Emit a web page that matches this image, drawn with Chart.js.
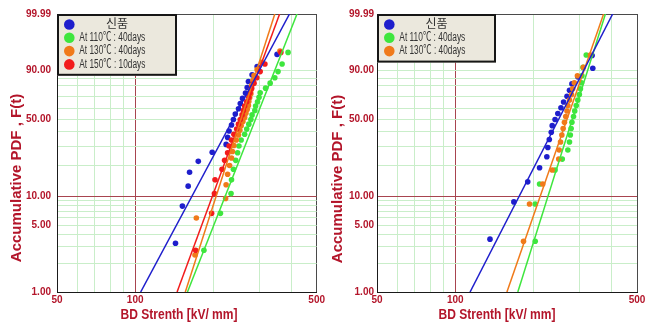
<!DOCTYPE html>
<html>
<head>
<meta charset="utf-8">
<script src="https://cdn.jsdelivr.net/npm/chart.js@4.4.1/dist/chart.umd.min.js"></script>
<style>
  html, body { margin: 0; padding: 0; background: #fff; }
  #wrap { position: relative; width: 654px; height: 325px; overflow: hidden; }
  .panel { position: absolute; top: 0; width: 327px; height: 325px; }
</style>
</head>
<body>
<div id="wrap">
  <div class="panel" style="left:0"><canvas id="leftChart" width="327" height="325"></canvas></div>
  <div class="panel" style="left:327px"><canvas id="rightChart" width="327" height="325"></canvas></div>
</div>
<script>
// ── Axes ──────────────────────────────────

const gridKV   = [50, 60, 70, 80, 90, 100, 200, 300, 400, 500];
const labelKV  = [50, 100, 500];
const gridPct  = [1, 2, 3, 4, 5, 6, 7, 8, 9, 10, 20, 30, 40, 50, 60, 70, 80, 85, 90, 99.99];
const labelPct = [1, 5, 10, 50, 90, 99.99];

const names  = ['신품', 'At 110℃ : 40days', 'At 130℃ : 40days', 'At 150℃ : 10days'];
const colors = ['#1e1ecc', '#3ee63e', '#f07a1a', '#f21c1c'];

// ── Left panel data (BD strength kV/mm, cumulative %) ──

const leftNewKV = [143, 152, 160, 162, 175, 198, 224, 227, 230, 235, 239, 243, 250, 254, 259, 266, 270, 273, 282, 295, 352];
const leftNewPct = [3.27, 7.94, 12.62, 17.29, 21.96, 26.64, 31.31, 35.98, 40.65, 45.33, 50.00, 54.67, 59.35, 64.02, 68.69, 73.36, 78.04, 82.71, 87.38, 92.06, 96.73];

const left110KV = [184, 213, 234, 235, 239, 244, 248, 251, 256, 264, 269, 274, 279, 282, 289, 291, 296, 300, 303, 318, 331, 345, 355, 368, 388];
const left110Pct = [2.76, 6.69, 10.63, 14.57, 18.50, 22.44, 26.38, 30.31, 34.25, 38.19, 42.13, 46.06, 50.00, 53.94, 57.87, 61.81, 65.75, 69.69, 73.62, 77.56, 81.50, 85.43, 89.37, 93.31, 97.24];

const left130KV = [170, 172, 223, 224, 227, 231, 235, 237, 240, 245, 250, 253, 256, 260, 264, 267, 270, 273, 274, 276, 279, 280, 281, 284, 287, 295, 307, 361];
const left130Pct = [2.46, 5.99, 9.51, 13.03, 16.55, 20.07, 23.59, 27.11, 30.63, 34.15, 37.68, 41.20, 44.72, 48.24, 51.76, 55.28, 58.80, 62.32, 65.85, 69.37, 72.89, 76.41, 79.93, 83.45, 86.97, 90.49, 94.01, 97.54];

const left150KV = [171, 197, 202, 203, 216, 221, 227, 230, 235, 240, 246, 250, 254, 258, 261, 264, 269, 274, 277, 281, 287, 294, 303, 316, 364];
const left150Pct = [2.76, 6.69, 10.63, 14.57, 18.50, 22.44, 26.38, 30.31, 34.25, 38.19, 42.13, 46.06, 50.00, 53.94, 57.87, 61.81, 65.75, 69.69, 73.62, 77.56, 81.50, 85.43, 89.37, 93.31, 97.24];

// fitted lines: kV/mm at F = 1 % and at F = 99.99 %
const leftFitLow  = [105, 159, 156, 145];
const leftFitHigh = [393, 420, 345, 360];

// ── Right panel data ──

const rightNewKV = [136, 168, 190, 211, 225, 227, 230, 234, 236, 242, 248, 255, 261, 269, 275, 281, 296, 338, 336];
const rightNewPct = [3.61, 8.76, 13.92, 19.07, 24.23, 29.38, 34.54, 39.69, 44.85, 50.00, 55.15, 60.31, 65.46, 70.62, 75.77, 80.93, 86.08, 91.24, 96.39];

const right110KV = [203, 203, 211, 242, 258, 271, 275, 277, 279, 281, 285, 288, 292, 296, 300, 303, 306, 307, 310, 319];
const right110Pct = [3.43, 8.33, 13.24, 18.14, 23.04, 27.94, 32.84, 37.75, 42.65, 47.55, 52.45, 57.35, 62.25, 67.16, 72.06, 76.96, 81.86, 86.76, 91.67, 96.57];

const right130KV = [183, 193, 217, 236, 250, 251, 254, 257, 260, 263, 266, 269, 271, 275, 280, 283, 287, 295, 311, 331];
const right130Pct = [3.43, 8.33, 13.24, 18.14, 23.04, 27.94, 32.84, 37.75, 42.65, 47.55, 52.45, 57.35, 62.25, 67.16, 72.06, 76.96, 81.86, 86.76, 91.67, 96.57];

const rightFitLow  = [114, 174, 158];
const rightFitHigh = [403, 378, 372];

// ── Helpers ───────────────────────────────

const tickRed  = '#b3152a';
const gridGrn  = '#c9eec9';
const gridRed  = '#a8444f';
const frameCol = '#4a4a4a';

const lg = v => Math.log10(v);
const wb = p => Math.log(-Math.log(1 - p / 100));   // Weibull probability scale

function pointSet(i, kv, pct) {
  return {
    label: names[i],
    data: kv.map((v, k) => ({ x: lg(v), y: wb(pct[k]) })),
    backgroundColor: colors[i],
    borderWidth: 0,
    pointRadius: 2.8,
    order: 10 - i
  };
}

function fitSet(i, lo, hi) {
  return {
    label: names[i],
    fit: true,
    data: [{ x: lg(lo), y: wb(1) }, { x: lg(hi), y: wb(99.99) }],
    showLine: true,
    borderColor: colors[i],
    borderWidth: 1.5,
    pointRadius: 0,
    order: 0
  };
}

function gridColor(ctx, grid, redAt) {
  const v = grid[ctx.index];
  if (ctx.index === 0) return 'rgba(0,0,0,0)';
  if (ctx.index === grid.length - 1) return frameCol;
  return v === redAt ? gridRed : gridGrn;
}

const tickFont = { family: 'Liberation Sans', size: 10, weight: 'bold' };

function makeScales(yWidth, yPad) {
  return {
    x: {
      type: 'linear', min: lg(50), max: lg(500),
      afterBuildTicks: s => { s.ticks = gridKV.map(v => ({ value: lg(v) })); },
      afterFit: s => { s.height = 33; },
      ticks: {
        autoSkip: false, maxRotation: 0, padding: 2, color: tickRed, font: tickFont,
        callback: (val, i) => labelKV.includes(gridKV[i]) ? String(gridKV[i]) : ''
      },
      grid: { drawTicks: false, lineWidth: 1, color: c => gridColor(c, gridKV, 100) },
      border: { color: '#1a1a1a' }
    },
    y: {
      type: 'linear', min: wb(1), max: wb(99.99),
      afterBuildTicks: s => { s.ticks = gridPct.map(p => ({ value: wb(p) })); },
      afterFit: s => { s.width = yWidth; },
      ticks: {
        autoSkip: false, padding: yPad, color: tickRed, font: tickFont,
        callback: (val, i) => labelPct.includes(gridPct[i]) ? gridPct[i].toFixed(2) : ''
      },
      grid: { drawTicks: false, lineWidth: 1, color: c => gridColor(c, gridPct, 10) },
      border: { color: '#1a1a1a' }
    }
  };
}

// ── Titles + legend box ───────────────────

const decor = {
  id: 'decor',
  afterDraw(chart, args, opts) {
    const ctx = chart.ctx;
    const a = chart.chartArea;
    ctx.save();
    ctx.fillStyle = tickRed;
    ctx.textAlign = 'center';
    ctx.textBaseline = 'middle';
    ctx.font = 'bold 14px "Liberation Sans"';
    ctx.fillText('BD Strenth [kV/ mm]', opts.xTitleX, 315, 117);
    ctx.translate(opts.yTitleX, opts.yTitleY);
    ctx.rotate(-Math.PI / 2);
    ctx.font = 'bold 15px "Liberation Sans"';
    ctx.fillText('Accumulative PDF , F(t)', 0, 0);
    ctx.restore();

    const sets = chart.data.datasets.filter(d => !d.fit);
    const bx = a.left, by = a.top, bw = opts.legendW, bh = 9 + 13.2 * sets.length;
    ctx.save();
    ctx.fillStyle = '#ebe8dd';
    ctx.fillRect(bx, by, bw, bh);
    ctx.lineWidth = 2;
    ctx.strokeStyle = '#161616';
    ctx.strokeRect(bx + 1, by + 1, bw - 2, bh - 2);
    ctx.font = '12px "Liberation Sans", "Noto Sans CJK KR"';
    ctx.textBaseline = 'middle';
    sets.forEach((d, k) => {
      const cy = by + 10.5 + 13.3 * k;
      ctx.beginPath();
      ctx.arc(bx + 12.3, cy, 5.3, 0, Math.PI * 2);
      ctx.fillStyle = d.backgroundColor;
      ctx.fill();
      ctx.fillStyle = '#333';
      if (k === 0) {
        ctx.textAlign = 'center';
        ctx.fillText(d.label, bx + bw / 2, cy);
      } else {
        ctx.textAlign = 'left';
        ctx.fillText(d.label, bx + 22.3, cy, 66);
      }
    });
    ctx.restore();
  }
};

function makeChart(id, datasets, yWidth, yPad, rightPad, decorOpts) {
  return new Chart(document.getElementById(id), {
    type: 'scatter',
    data: { datasets },
    options: {
      responsive: false,
      animation: false,
      devicePixelRatio: 1,
      layout: { padding: { top: 14, right: rightPad, left: 0, bottom: 0 } },
      plugins: { legend: { display: false }, tooltip: { enabled: false }, decor: decorOpts },
      scales: makeScales(yWidth, yPad)
    },
    plugins: [decor]
  });
}

// ── Build charts ──────────────────────────

makeChart('leftChart', [
  pointSet(0, leftNewKV, leftNewPct),
  pointSet(1, left110KV, left110Pct),
  pointSet(2, left130KV, left130Pct),
  pointSet(3, left150KV, left150Pct),
  ...leftFitLow.map((lo, i) => fitSet(i, lo, leftFitHigh[i]))
], 57, 6, 8, { xTitleX: 179, yTitleX: 17, yTitleY: 178, legendW: 120 });

makeChart('rightChart', [
  pointSet(0, rightNewKV, rightNewPct),
  pointSet(1, right110KV, right110Pct),
  pointSet(2, right130KV, right130Pct),
  ...rightFitLow.map((lo, i) => fitSet(i, lo, rightFitHigh[i]))
], 50, 3, 17, { xTitleX: 170, yTitleX: 10.5, yTitleY: 179, legendW: 119 });
</script>
</body>
</html>
